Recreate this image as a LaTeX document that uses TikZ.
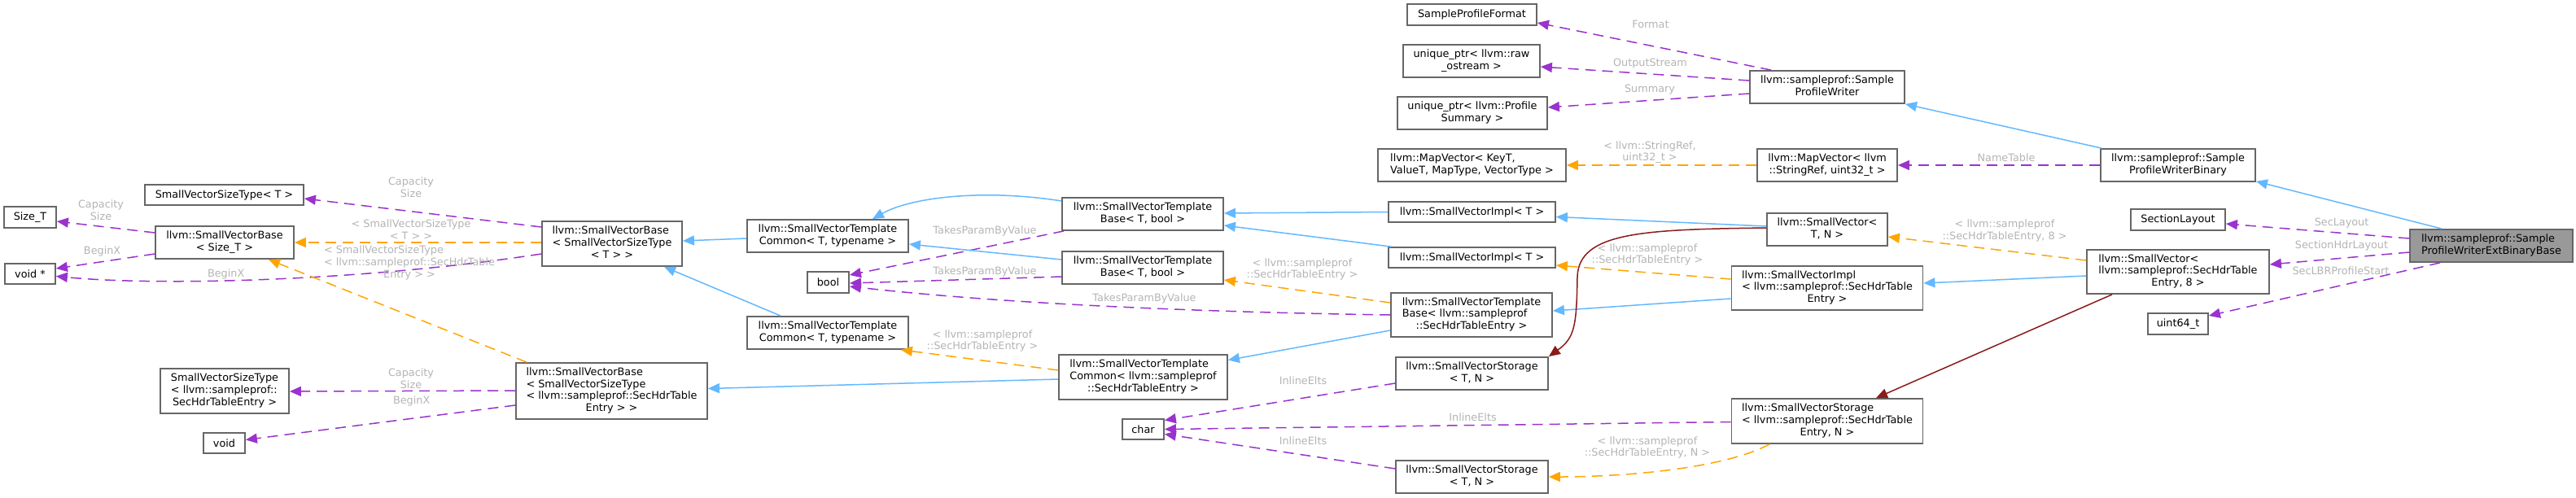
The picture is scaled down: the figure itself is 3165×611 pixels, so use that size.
\documentclass[tikz,border=0pt]{standalone}
\usepackage{fontspec}
\setmainfont{DejaVu Sans}
\usetikzlibrary{arrows.meta,calc}
\definecolor{eblue}{HTML}{63B8FF}
\definecolor{epurple}{HTML}{9A32CD}
\definecolor{eorange}{HTML}{FFA500}
\definecolor{ered}{HTML}{8B1A1A}
\definecolor{lblgray}{HTML}{B4B4B4}
\definecolor{bordergray}{HTML}{666666}
\definecolor{mainfill}{HTML}{999999}
\newcommand{\LCtext}[2]{\begin{tabular}{@{}l@{}}#1\\\multicolumn{1}{@{}c@{}}{#2}\end{tabular}}
\tikzset{
  cls/.style={draw=bordergray, line width=0.9pt, fill=white, inner sep=0pt,
    font=\fontsize{6.4}{7.3}\selectfont, align=center},
  mainnode/.style={cls, fill=mainfill},
  inh/.style={draw=eblue, line width=0.75pt, -{Triangle[length=7pt,width=6pt]}},
  usage/.style={draw=epurple, line width=0.75pt, dash pattern=on 6.5pt off 4pt, -{Triangle[length=7pt,width=6pt]}},
  tmpl/.style={draw=eorange, line width=0.75pt, dash pattern=on 6.5pt off 4pt, -{Triangle[length=7pt,width=6pt]}},
  cont/.style={draw=ered, line width=0.75pt, -{Triangle[length=7pt,width=6pt]}},
  lbl/.style={text=lblgray, inner sep=0pt, font=\fontsize{6.4}{7.3}\selectfont, align=center}
}
\begin{document}
\begin{tikzpicture}[x=0.5pt,y=-0.5pt]
\useasboundingbox (0,0) rectangle (3165,611);
% nodes
\node[cls, minimum width=79.5pt, minimum height=13pt] (fmt) at (1808.5,18) {SampleProfileFormat};
\node[cls, minimum width=84pt, minimum height=20pt] (raw) at (1808,75) {\LCtext{unique\_ptr< llvm::raw}{\_ostream >}};
\node[cls, minimum width=92pt, minimum height=20pt] (summ) at (1809,139) {\LCtext{unique\_ptr< llvm::Profile}{Summary >}};
\node[cls, minimum width=115.5pt, minimum height=20pt] (mapg) at (1808.5,203) {\LCtext{llvm::MapVector< KeyT,}{ValueT, MapType, VectorType >}};
\node[cls, minimum width=95pt, minimum height=20pt] (writer) at (2245,107) {\LCtext{llvm::sampleprof::Sample}{ProfileWriter}};
\node[cls, minimum width=86pt, minimum height=20pt] (maps) at (2245,203) {\LCtext{llvm::MapVector< llvm}{::StringRef, uint32\_t >}};
\node[cls, minimum width=95pt, minimum height=20pt] (bin) at (2676,203) {\LCtext{llvm::sampleprof::Sample}{ProfileWriterBinary}};
\node[mainnode, minimum width=100pt, minimum height=20pt] (ext) at (3061,302) {\LCtext{llvm::sampleprof::Sample}{ProfileWriterExtBinaryBase}};
\node[cls, minimum width=58pt, minimum height=13pt] (secl) at (2676,270) {SectionLayout};
\node[cls, minimum width=112pt, minimum height=27pt] (sv8) at (2676,334) {\LCtext{llvm::SmallVector<\\llvm::sampleprof::SecHdrTable}{Entry, 8 >}};
\node[cls, minimum width=37pt, minimum height=13pt] (u64) at (2676,398) {uint64\_t};
\node[cls, minimum width=74pt, minimum height=20pt] (svtn) at (2245,282) {\LCtext{llvm::SmallVector<}{T, N >}};
\node[cls, minimum width=117.5pt, minimum height=27pt] (implsec) at (2245,354) {\LCtext{llvm::SmallVectorImpl\\< llvm::sampleprof::SecHdrTable}{Entry >}};
\node[cls, minimum width=117.5pt, minimum height=27.5pt] (storsec) at (2245,517.5) {\LCtext{llvm::SmallVectorStorage\\< llvm::sampleprof::SecHdrTable}{Entry, N >}};
\node[cls, minimum width=102.5pt, minimum height=12.5pt] (impl1) at (1808.5,260.5) {llvm::SmallVectorImpl< T >};
\node[cls, minimum width=102.5pt, minimum height=12.5pt] (impl2) at (1808.5,316.5) {llvm::SmallVectorImpl< T >};
\node[cls, minimum width=99pt, minimum height=27pt] (tbsec) at (1808,387) {\LCtext{llvm::SmallVectorTemplate\\Base< llvm::sampleprof}{::SecHdrTableEntry >}};
\node[cls, minimum width=93.5pt, minimum height=20pt] (stor1) at (1808.5,459) {\LCtext{llvm::SmallVectorStorage}{< T, N >}};
\node[cls, minimum width=93.5pt, minimum height=20pt] (stor2) at (1808.5,586) {\LCtext{llvm::SmallVectorStorage}{< T, N >}};
\node[cls, minimum width=99pt, minimum height=20pt] (tb1) at (1404,263) {\LCtext{llvm::SmallVectorTemplate}{Base< T, bool >}};
\node[cls, minimum width=99pt, minimum height=20pt] (tb2) at (1404,329) {\LCtext{llvm::SmallVectorTemplate}{Base< T, bool >}};
\node[cls, minimum width=103.5pt, minimum height=27.5pt] (tcsec) at (1404.5,463.5) {\LCtext{llvm::SmallVectorTemplate\\Common< llvm::sampleprof}{::SecHdrTableEntry >}};
\node[cls, minimum width=25.5pt, minimum height=12.5pt] (char) at (1404.5,527.5) {char};
\node[cls, minimum width=99pt, minimum height=20pt] (tc1) at (1017,290) {\LCtext{llvm::SmallVectorTemplate}{Common< T, typename >}};
\node[cls, minimum width=25.5pt, minimum height=13pt] (bool) at (1017.5,347) {bool};
\node[cls, minimum width=99pt, minimum height=20pt] (tc2) at (1017,409) {\LCtext{llvm::SmallVectorTemplate}{Common< T, typename >}};
\node[cls, minimum width=86pt, minimum height=27.5pt] (base1) at (752,299.5) {\LCtext{llvm::SmallVectorBase\\< SmallVectorSizeType}{< T > >}};
\node[cls, minimum width=117.5pt, minimum height=34.5pt] (basesec) at (751.5,480.5) {\LCtext{llvm::SmallVectorBase\\< SmallVectorSizeType\\< llvm::sampleprof::SecHdrTable}{Entry > >}};
\node[cls, minimum width=97.5pt, minimum height=12.5pt] (svst) at (275.5,239.5) {SmallVectorSizeType< T >};
\node[cls, minimum width=85pt, minimum height=20pt] (basest) at (276,298) {\LCtext{llvm::SmallVectorBase}{< Size\_T >}};
\node[cls, minimum width=79pt, minimum height=27.5pt] (svstsec) at (276,480.5) {\LCtext{SmallVectorSizeType\\< llvm::sampleprof::}{SecHdrTableEntry >}};
\node[cls, minimum width=25.5pt, minimum height=12.5pt] (void) at (275.5,544.5) {void};
\node[cls, minimum width=32pt, minimum height=13pt] (sizet) at (37,267) {Size\_T};
\node[cls, minimum width=31pt, minimum height=12.5pt] (voidp) at (37,336.5) {void *};
% usage edges (purple)
\draw[usage] ($(writer.north)+(-69,0)$) -- ($(fmt.east)+(0,10)$);
\draw[usage] ($(writer.west)+(0,-8)$) -- ($(raw.east)+(0,7)$);
\draw[usage] ($(writer.west)+(0,8)$) -- ($(summ.east)+(0,-7)$);
\draw[usage] (bin.west) -- (maps.east);
\draw[usage] ($(ext.west)+(0,-9)$) -- ($(secl.east)+(0,5)$);
\draw[usage] ($(ext.west)+(0,8)$) -- ($(sv8.east)+(0,-9)$);
\draw[usage] ($(ext.south)+(-63,0)$) -- ($(u64.east)+(0,-10)$);
\draw[usage] ($(storsec.west)+(0,1)$) -- (char.east);
\draw[usage] ($(stor1.west)+(0,12)$) -- ($(char.east)+(0,-11)$);
\draw[usage] ($(stor2.west)+(0,-10)$) -- ($(char.east)+(0,6)$);
\draw[usage] (tbsec.west) .. controls (1500,384) and (1250,375) .. ($(bool.east)+(0,5)$);
\draw[usage] ($(tb1.south west)+(3,0)$) -- ($(bool.east)+(0,-9)$);
\draw[usage] ($(tb2.west)+(0,11)$) -- ($(bool.east)+(0,1)$);
\draw[usage] ($(base1.west)+(0,-20.5)$) -- ($(svst.east)+(0,4.5)$);
\draw[usage] ($(base1.west)+(0,12.5)$) .. controls (450,345) and (200,352) .. ($(voidp.east)+(0,3)$);
\draw[usage] ($(basesec.west)+(0,-0.5)$) -- ($(svstsec.east)+(0,0.5)$);
\draw[usage] ($(basesec.west)+(0,17.5)$) -- ($(void.east)+(0,-4)$);
\draw[usage] ($(basest.west)+(0,-12)$) -- ($(sizet.east)+(0,5)$);
\draw[usage] ($(basest.west)+(0,14)$) -- ($(voidp.east)+(0,-6.5)$);
% template edges (orange)
\draw[tmpl] (maps.west) -- (mapg.east);
\draw[tmpl] ($(sv8.west)+(0,-14)$) -- ($(svtn.east)+(0,9)$);
\draw[tmpl] ($(implsec.west)+(0,-11)$) -- ($(impl2.east)+(0,9.5)$);
\draw[tmpl] ($(tbsec.west)+(0,-15)$) -- ($(tb2.east)+(0,15)$);
\draw[tmpl] ($(tcsec.west)+(0,-8.5)$) -- ($(tc2.south east)+(-10,0)$);
\draw[tmpl] ($(storsec.south)+(-71,0)$) .. controls (2120,575) and (2000,586) .. (stor2.east);
\draw[tmpl] ($(base1.west)+(0,-1.5)$) -- (basest.east);
\draw[tmpl] ($(basesec.north west)+(14,0)$) -- ($(basest.south)+(54,0)$);
% inheritance edges (blue)
\draw[inh] ($(ext.north)+(-61,0)$) -- ($(bin.south east)+(0,-1)$);
\draw[inh] ($(bin.north west)+(2,0)$) -- (writer.south east);
\draw[inh] ($(sv8.west)+(0,5)$) -- ($(implsec.east)+(0,-6)$);
\draw[inh] ($(implsec.west)+(0,13)$) -- ($(tbsec.east)+(0,-5)$);
\draw[inh] ($(tbsec.west)+(0,19)$) -- ($(tcsec.east)+(0,-21)$);
\draw[inh] ($(tcsec.west)+(0,2.5)$) -- ($(basesec.east)+(0,-3)$);
\draw[inh] ($(svtn.west)+(0,-4)$) -- ($(impl1.east)+(0,6)$);
\draw[inh] (impl1.west) -- ($(tb1.east)+(0,-1)$);
\draw[inh] ($(impl2.north west)+(4,0)$) -- ($(tb1.east)+(0,14)$);
\draw[inh] ($(tb1.west)+(0,-16)$) .. controls (1210,232) and (1120,242) .. ($(tc1.north)+(55,0)$);
\draw[inh] ($(tb2.west)+(0,-10)$) -- ($(tc1.east)+(0,10)$);
\draw[inh] ($(tc1.west)+(0,3)$) -- ($(base1.east)+(0,-3.5)$);
\draw[inh] ($(tc2.north)+(-58,0)$) -- ($(base1.south)+(64,0)$);
% containment edges (dark red)
\draw[cont] ($(svtn.west)+(0,-2)$) .. controls (2020,282) and (1940,285) .. (1938,340) .. controls (1937,400) and (1935,415) .. (stor1.north east);
\draw[cont] ($(sv8.south)+(-81,0)$) -- ($(storsec.north)+(60,0)$);
% edge labels
\node[lbl] (lFormat) at (2028,30) {Format};
\node[lbl] (lOut) at (2027.5,78) {OutputStream};
\node[lbl] (lSum) at (2027,110) {Summary};
\node[lbl] (lStrRef) at (2027,187) {< llvm::StringRef,\\uint32\_t >};
\node[lbl] (lName) at (2465,194) {NameTable};
\node[lbl] (lSecL) at (2877,274) {SecLayout};
\node[lbl] (lSecH) at (2877,302) {SectionHdrLayout};
\node[lbl] (lLBR) at (2876,333) {SecLBRProfileStart};
\node[lbl] (lSv8) at (2463,283.5) {< llvm::sampleprof\\::SecHdrTableEntry, 8 >};
\node[lbl] (lImpl) at (2024,313) {< llvm::sampleprof\\::SecHdrTableEntry >};
\node[lbl] (lTb) at (1600,331) {< llvm::sampleprof\\::SecHdrTableEntry >};
\node[lbl] (lTP1) at (1210,284) {TakesParamByValue};
\node[lbl] (lTP2) at (1210,334) {TakesParamByValue};
\node[lbl] (lTP3) at (1406,366.5) {TakesParamByValue};
\node[lbl] (lTc) at (1207,419) {< llvm::sampleprof\\::SecHdrTableEntry >};
\node[lbl] (lIE1) at (1601,468) {InlineElts};
\node[lbl] (lIE2) at (1809.5,512.5) {InlineElts};
\node[lbl] (lIE3) at (1601,542) {InlineElts};
\node[lbl] (lStor) at (2024,550) {< llvm::sampleprof\\::SecHdrTableEntry, N >};
\node[lbl] (lCS1) at (505,230.5) {Capacity\\Size};
\node[lbl] (lSVT) at (505,282) {< SmallVectorSizeType\\< T > >};
\node[lbl] (lSVSec) at (503,323.5) {\LCtext{< SmallVectorSizeType\\< llvm::sampleprof::SecHdrTable}{Entry > >}};
\node[lbl] (lB1) at (277.7,336.7) {BeginX};
\node[lbl] (lCS2) at (124,258) {Capacity\\Size};
\node[lbl] (lB2) at (125.6,309.3) {BeginX};
\node[lbl] (lCS3) at (505,465) {Capacity\\Size};
\node[lbl] (lB3) at (505.7,492.7) {BeginX};
\end{tikzpicture}
\end{document}
